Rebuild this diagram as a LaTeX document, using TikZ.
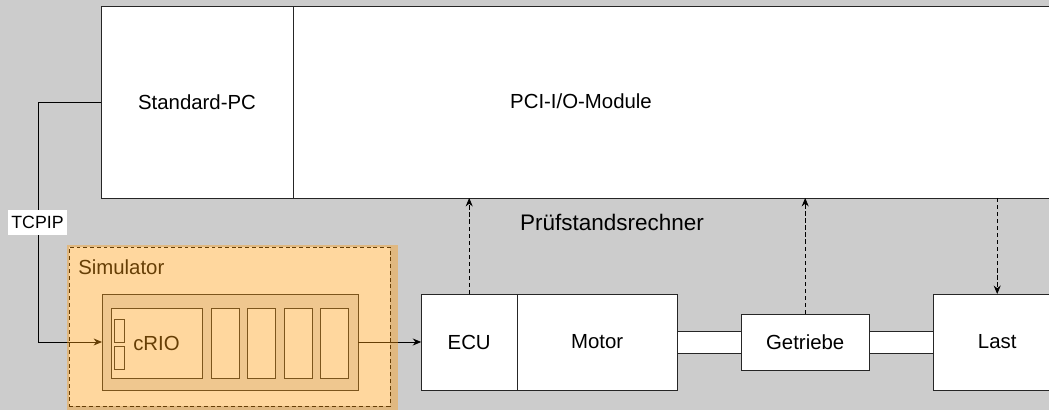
\documentclass[tikz,border=0pt]{standalone}
\usepackage{fontspec}
\setmainfont{Liberation Sans}
\usetikzlibrary{positioning,arrows.meta}
\definecolor{simarancio}{RGB}{255,156,14}
\tikzset{
  blocco/.style={draw=black!85,fill=white,line width=0.6pt,inner sep=0pt,outer sep=0pt,
    font=\fontsize{14.5}{17}\selectfont},
  freccia/.style={-{Stealth[length=6pt,width=5pt]},line width=0.6pt},
  tratteggio/.style={freccia,dash pattern=on 3pt off 2pt},
}
\begin{document}
\begin{tikzpicture}
  \useasboundingbox (0,0) rectangle (26.225,10.25);
  \clip (0,0) rectangle (26.225,10.25);
  \fill[black!20] (0,0) rectangle (26.225,10.25);
  % rechner in alto
  \node[blocco,minimum width=4.8cm,minimum height=4.8cm] (spc) at (4.925,7.7) {Standard-PC};
  \node[blocco,minimum width=20cm,minimum height=4.8cm,right=0pt of spc] (pci) {};
  \node[font=\fontsize{14.5}{17}\selectfont] (pcitext) at (14.525,7.725) {PCI-I/O-Module};
  \node[font=\fontsize{16}{19}\selectfont] (rechner) at (15.3,4.7) {Prüfstandsrechner};
  % catena di trasmissione
  \node[blocco,minimum width=2.4cm,minimum height=2.4cm] (ecu) at (11.73,1.7) {ECU};
  \node[blocco,minimum width=4cm,minimum height=2.4cm,right=0pt of ecu] (motor) {Motor};
  \node[blocco,minimum width=1.6cm,minimum height=0.55cm,right=0pt of motor] (welle1) {};
  \node[blocco,minimum width=3.2cm,minimum height=1.4cm,right=0pt of welle1] (getriebe) {Getriebe};
  \node[blocco,minimum width=1.6cm,minimum height=0.55cm,right=0pt of getriebe] (welle2) {};
  \node[blocco,minimum width=3.2cm,minimum height=2.4cm,right=0pt of welle2] (last) {Last};
  \draw[tratteggio] (ecu.north) -- (ecu.north |- pci.south);
  \draw[tratteggio] (getriebe.north) -- (getriebe.north |- pci.south);
  \draw[tratteggio] (last.north |- pci.south) -- (last.north);
  % simulatore con cRIO
  \node[draw=black,line width=0.6pt,dash pattern=on 2.8pt off 2pt,fill=white,inner sep=0pt,outer sep=0pt,
    minimum width=8.025cm,minimum height=3.975cm] (sim) at (5.7375,2.0875) {};
  \node[anchor=west,inner sep=0pt,font=\fontsize{14.5}{17}\selectfont] (simtext) at (1.95,3.575) {Simulator};
  \node[blocco,fill=black!10,minimum width=6.4cm,minimum height=2.4cm] (crio) at (5.75,1.7) {};
  \node[blocco,minimum width=2.275cm,minimum height=1.75cm] (cpu) at (3.9125,1.675) {cRIO};
  \node[blocco,minimum width=0.25cm,minimum height=0.575cm] (port1) at (2.975,1.975) {};
  \node[blocco,minimum width=0.25cm,minimum height=0.575cm] (port2) at (2.975,1.3) {};
  \foreach \i in {1,...,4}
    \node[blocco,minimum width=0.7cm,minimum height=1.75cm] (slot\i) at ({4.7125+0.9125*\i},1.675) {};
  \draw[freccia] (spc.west) -- ++(-1.575,0) |- (crio.west);
  \draw[freccia] (crio.east) -- (ecu.west);
  \node[fill=white,inner xsep=2.5pt,inner ysep=0pt,minimum height=0.625cm,
    font=\fontsize{12.6}{15}\selectfont] (tcpip) at (0.9375,4.6875) {TCPIP};
  % velo arancione sopra il simulatore
  \fill[simarancio,fill opacity=0.4] ([shift={(-0.05,0.05)}]sim.north west)
    rectangle ([shift={(0.2,-0.2)}]sim.south east);
\end{tikzpicture}
\end{document}
